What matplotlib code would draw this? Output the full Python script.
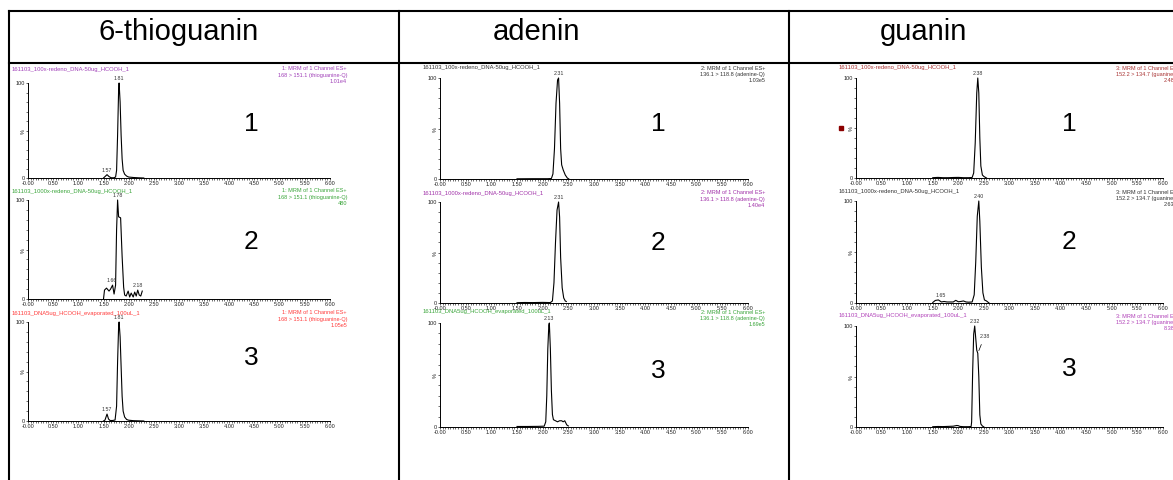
import matplotlib
matplotlib.use('Agg')
import matplotlib.pyplot as plt
from matplotlib.lines import Line2D
from matplotlib.patches import Rectangle
from matplotlib.ticker import MultipleLocator

plt.rcParams['font.family'] = ['Liberation Sans', 'DejaVu Sans']

# ---- data (retention time in min, intensity in %) ----
compounds = ['6-thioguanin', 'adenin', 'guanin']
samples = ['161103_100x-redeno_DNA-50ug_HCOOH_1',
           '161103_1000x-redeno_DNA-50ug_HCOOH_1',
           '161103_DNA5ug_HCOOH_evaporated_100uL_1']
channels = ['1: MRM of 1 Channel ES+', '2: MRM of 1 Channel ES+', '3: MRM of 1 Channel ES+']
transitions = ['168 > 151.1 (thioguanine-Q)', '136.1 > 118.8 (adenine-Q)', '152.2 > 134.7 (guanine-Q)']
max_counts = [['1.01e4', '480', '1.05e5'],
              ['1.03e5', '1.40e4', '1.69e5'],
              ['2.48e5', '2.63e4', '8.38e4']]
panel_numbers = ['1', '2', '3']
x_ticks = [0.0, 0.5, 1.0, 1.5, 2.0, 2.5, 3.0, 3.5, 4.0, 4.5, 5.0, 5.5, 6.0]
x_tick_labels = ['-0.00', '0.50', '1.00', '1.50', '2.00', '2.50', '3.00',
                 '3.50', '4.00', '4.50', '5.00', '5.50', '6.00']

t_thio_1 = [1.50, 1.53, 1.57, 1.61, 1.65, 1.70, 1.74, 1.76, 1.78, 1.80, 1.81, 1.83, 1.85,
            1.87, 1.89, 1.92, 1.96, 2.00, 2.10, 2.20, 2.30]
i_thio_1 = [0.0, 1.5, 3.5, 1.5, 0.3, 0.2, 1.0, 8, 45, 92, 100, 80, 45, 20, 8, 4, 2, 1, 0.5, 0.2, 0]
t_thio_2 = [1.50, 1.52, 1.56, 1.61, 1.64, 1.68, 1.71, 1.74, 1.76, 1.78, 1.80, 1.84, 1.87,
            1.90, 1.92, 1.95, 1.99, 2.02, 2.05, 2.09, 2.12, 2.15, 2.18, 2.21, 2.24, 2.27]
i_thio_2 = [0, 9, 11, 8, 10, 14, 5, 14, 70, 100, 83, 82, 43, 12, 4, 3, 8, 2, 6, 2, 7, 3, 9, 4, 3, 8]
t_thio_3 = [1.50, 1.53, 1.57, 1.60, 1.63, 1.68, 1.73, 1.76, 1.78, 1.80, 1.81, 1.83, 1.85,
            1.87, 1.89, 1.92, 1.96, 2.00, 2.10, 2.30]
i_thio_3 = [0, 1, 7, 2, 0.5, 0.5, 1, 15, 60, 95, 100, 85, 55, 25, 10, 4, 1.5, 0.8, 0.3, 0]

t_ade_1 = [1.50, 1.80, 2.10, 2.17, 2.20, 2.23, 2.26, 2.29, 2.31, 2.33, 2.35, 2.37, 2.40, 2.44, 2.48, 2.51]
i_ade_1 = [0.2, 0.3, 0.3, 0.5, 5, 30, 75, 98, 100, 75, 30, 14, 9, 4, 1, 0]
t_ade_2 = [1.50, 1.65, 1.80, 2.00, 2.15, 2.19, 2.22, 2.25, 2.28, 2.31, 2.33, 2.35, 2.38, 2.41, 2.44, 2.46]
i_ade_2 = [0.3, 0.5, 0.4, 0.6, 0.4, 2, 20, 60, 92, 100, 85, 45, 15, 5, 2, 1.5]
t_ade_3 = [1.50, 1.70, 1.90, 2.03, 2.06, 2.08, 2.10, 2.12, 2.13, 2.15, 2.17, 2.19, 2.21, 2.25,
           2.29, 2.33, 2.37, 2.40, 2.43, 2.47, 2.50]
i_ade_3 = [0.5, 0.5, 0.6, 0.8, 5, 30, 75, 98, 100, 75, 35, 12, 7, 6, 5, 6, 6, 5, 6, 2, 1]

t_gua_1 = [1.50, 1.60, 1.70, 1.80, 1.90, 2.00, 2.10, 2.20, 2.27, 2.30, 2.33, 2.36, 2.38, 2.40,
           2.42, 2.44, 2.47, 2.50, 2.55]
i_gua_1 = [0.3, 0.6, 0.3, 0.3, 0.5, 0.6, 0.3, 0.3, 0.5, 5, 35, 85, 100, 85, 40, 12, 3, 1.5, 0]
t_gua_2 = [1.50, 1.55, 1.61, 1.67, 1.72, 1.78, 1.85, 1.90, 1.95, 2.00, 2.05, 2.10, 2.15, 2.20,
           2.27, 2.31, 2.34, 2.37, 2.40, 2.42, 2.45, 2.48, 2.51, 2.55, 2.60]
i_gua_2 = [0.5, 2.5, 3, 1, 1.5, 1, 1, 1, 2.6, 1.2, 1.5, 2, 1, 0.8, 1, 8, 40, 85, 100, 80, 35,
           10, 3, 2, 0]
t_gua_3 = [1.50, 1.60, 1.70, 1.80, 1.90, 1.97, 2.00, 2.03, 2.10, 2.20, 2.25, 2.26, 2.28, 2.30,
           2.32, 2.34, 2.36, 2.38, 2.40, 2.42, 2.44, 2.47, 2.50]
i_gua_3 = [0.3, 0.5, 0.4, 0.6, 0.8, 1.5, 1.3, 0.6, 0.3, 0.3, 0.5, 5, 55, 92, 100, 88, 76, 73,
           50, 12, 3, 1, 0]

traces = [[(t_thio_1, i_thio_1), (t_thio_2, i_thio_2), (t_thio_3, i_thio_3)],
          [(t_ade_1, i_ade_1), (t_ade_2, i_ade_2), (t_ade_3, i_ade_3)],
          [(t_gua_1, i_gua_1), (t_gua_2, i_gua_2), (t_gua_3, i_gua_3)]]

# labelled peaks: (retention time, intensity)
peaks = [[[(1.81, 100), (1.57, 3.5)], [(1.78, 100), (1.66, 14), (2.18, 9)], [(1.81, 100), (1.57, 7)]],
         [[(2.31, 100)], [(2.31, 100)], [(2.13, 100)]],
         [[(2.38, 100)], [(2.40, 100), (1.65, 3)], [(2.32, 100), (2.38, 73)]]]

# ---- layout (pixels) ----
W, H = 1173, 480
header_colors = [['#a040b8', '#3aa53a', '#ff3b3b'],
                 ['#333333', '#a030a8', '#3aa53a'],
                 ['#a83232', '#333333', '#b040b8']]
col_x = [(28, 330), (440, 748), (856, 1163)]
row_y = [[(83, 178), (200, 299), (322, 421)],
         [(78, 179), (202, 303), (323, 427)],
         [(78, 178), (201, 303), (326, 427)]]
header_y = [[69, 191, 313], [68, 193, 312], [68, 192, 316]]
left_text_x = [12, 423, 839]
right_text_x = [347, 765, 1181]
title_x = [179, 536, 923]
number_x = [251, 658, 1069]
number_y = [[124, 242, 358], [124, 243, 371], [124, 242, 369]]


def fx(x):
    return x / W


def fy(y):
    return 1 - y / H


fig = plt.figure(figsize=(W / 100, H / 100), dpi=100)
fig.patch.set_facecolor('white')

# table grid
lw = 1.5
for y in (11, 63):
    fig.add_artist(Line2D([fx(9), fx(W)], [fy(y), fy(y)], color='black', lw=lw))
for x in (9, 399, 789):
    fig.add_artist(Line2D([fx(x), fx(x)], [fy(11), fy(H)], color='black', lw=lw))

for c in range(3):
    fig.text(fx(title_x[c]), fy(32), compounds[c], ha='center', va='center', fontsize=21)
    x0, x1 = col_x[c]
    for r in range(3):
        top, bot = row_y[c][r]
        ax = fig.add_axes([fx(x0), fy(bot), fx(x1) - fx(x0), (bot - top) / H])
        t, inten = traces[c][r]
        ax.plot(t, inten, color='black', lw=0.8, clip_on=False)
        ax.set_xlim(0, 6)
        ax.set_ylim(0, 100)
        for s in ('top', 'right'):
            ax.spines[s].set_visible(False)
        for s in ('left', 'bottom'):
            ax.spines[s].set_linewidth(0.7)
        ax.set_xticks(x_ticks)
        ax.set_xticklabels(x_tick_labels, fontsize=4)
        ax.xaxis.set_minor_locator(MultipleLocator(0.05))
        ax.set_yticks([0, 50, 100])
        ax.set_yticklabels(['0', '%', '100'], fontsize=4)
        ax.get_yticklabels()[1].set_rotation(90)
        ax.yaxis.set_minor_locator(MultipleLocator(10))
        ax.tick_params(which='major', length=1.7, width=0.5, pad=0.2, colors='#222222')
        ax.tick_params(which='minor', length=1.1, width=0.4)
        ax.set_facecolor('none')
        for rt, h in peaks[c][r]:
            if h < 90 and rt > 2.3 and c == 2:
                ax.annotate(f'{rt:.2f}', xy=(rt, h), xytext=(rt + 0.03, h + 14),
                            fontsize=3.8, color='#333333', ha='left', va='bottom',
                            arrowprops=dict(arrowstyle='-', lw=0.5, color='black'))
            else:
                ax.text(rt, h + 2, f'{rt:.2f}', fontsize=3.8, color='#333333',
                        ha='center', va='bottom')
        col = header_colors[c][r]
        hy = header_y[c][r]
        fig.text(fx(left_text_x[c]), fy(hy), samples[r], fontsize=4.2, color=col, va='center')
        for k, line in enumerate([channels[c], transitions[c], max_counts[c][r]]):
            fig.text(fx(right_text_x[c]), fy(hy + 6.3 * k), line, fontsize=4, color=col,
                     ha='right', va='center')
        fig.text(fx(number_x[c]), fy(number_y[c][r]), panel_numbers[r], fontsize=19,
                 ha='center', va='center')

# small marker in the guanin panel
fig.add_artist(Rectangle((fx(839), fy(130)), 4 / W, 4 / H, color='#8b0000'))

fig.savefig('out.png', dpi=100)
